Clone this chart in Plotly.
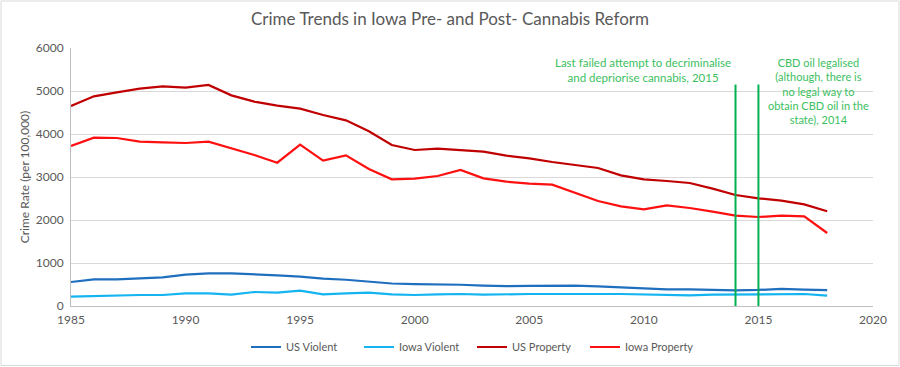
import plotly.graph_objects as go

years = list(range(1985, 2019))

us_violent = [558, 620, 620, 643, 667, 729, 758, 758, 744, 713, 684, 636, 611, 567,
              523, 507, 504, 494, 476, 463, 469, 474, 472, 458, 432, 405, 387, 387,
              369, 362, 373, 397, 383, 369]
iowa_violent = [217, 233, 233, 256, 256, 295, 295, 264, 326, 310, 357, 271, 295, 310,
                271, 256, 271, 279, 264, 279, 279, 279, 287, 279, 279, 264, 248, 248,
                264, 264, 264, 279, 279, 240]
us_property = [4651, 4876, 4969, 5054, 5109, 5078, 5140, 4899, 4752, 4659, 4589, 4442,
               4318, 4062, 3744, 3628, 3659, 3620, 3589, 3496, 3434, 3349, 3279, 3209,
               3039, 2946, 2907, 2860, 2729, 2581, 2504, 2450, 2364, 2202]
iowa_property = [3721, 3915, 3907, 3822, 3806, 3791, 3822, 3674, 3512, 3333, 3752, 3380,
                 3504, 3186, 2946, 2961, 3023, 3163, 2969, 2891, 2845, 2822, 2636, 2442,
                 2318, 2248, 2341, 2279, 2194, 2101, 2070, 2101, 2085, 1698]

series_names = ["US Violent", "Iowa Violent", "US Property", "Iowa Property"]
series_colors = ["#1F6FBF", "#14B4F0", "#C00000", "#FF1010"]

event_years = [2014, 2015]
event_top = 5150
note_left = "Last failed attempt to decriminalise<br>and depriorise cannabis, 2015"
note_right = "CBD oil legalised<br>(although, there is<br>no legal way to<br>obtain CBD oil in the<br>state), 2014"

FONT = "Lato, 'Open Sans', sans-serif"
GRAY = "#595959"
GREEN = "#00B050"

fig = go.Figure()
for name, vals, col in zip(series_names, [us_violent, iowa_violent, us_property, iowa_property], series_colors):
    fig.add_trace(go.Scatter(x=years, y=vals, name=name, mode="lines",
                             line=dict(color=col, width=2.2)))

for ey in event_years:
    fig.add_shape(type="line", xref="x", yref="y", x0=ey, x1=ey, y0=0, y1=event_top,
                  line=dict(color=GREEN, width=2))

fig.add_annotation(x=2009.95, y=5850, xref="x", yref="y", text=note_left, showarrow=False,
                   font=dict(family=FONT, size=11.5, color="#3CC060"), align="center",
                   yanchor="top")
fig.add_annotation(x=2017.6, y=5870, xref="x", yref="y", text=note_right, showarrow=False,
                   font=dict(family=FONT, size=11, color="#3CC060"), align="center",
                   yanchor="top")

# outer border
fig.add_shape(type="rect", xref="paper", yref="paper",
              x0=-70/802, x1=1 + 26/802, y0=-59.5/258, y1=1 + 47/258,
              line=dict(color="#D9D9D9", width=1))

fig.update_layout(
    width=900, height=367,
    margin=dict(l=71, r=27, t=48, b=61, autoexpand=False),
    paper_bgcolor="white", plot_bgcolor="white",
    title=dict(text="Crime Trends in Iowa Pre- and Post- Cannabis Reform", x=0.5, xanchor="center",
               y=1 - 19/367, yanchor="middle",
               font=dict(family=FONT, size=17, color=GRAY)),
    font=dict(family=FONT, size=11, color=GRAY),
    showlegend=True,
    legend=dict(orientation="h", x=0.5, xanchor="center", y=-41/258, yanchor="middle",
                font=dict(family=FONT, size=11, color=GRAY), entrywidth=68,
                entrywidthmode="pixels", tracegroupgap=0),
    xaxis=dict(range=[1985, 2020], tickmode="linear", tick0=1985, dtick=5, automargin=False,
               showgrid=False, showline=True, linecolor="#BFBFBF", linewidth=1,
               ticks="", zeroline=False, tickfont=dict(size=12, color=GRAY), ticklabelstandoff=3),
    yaxis=dict(range=[0, 6000], tickmode="linear", tick0=0, dtick=1000, automargin=False,
               showgrid=True, gridcolor="#D9D9D9", gridwidth=1,
               showline=True, linecolor="#BFBFBF", linewidth=1, zeroline=False,
               ticks="", tickfont=dict(size=12, color=GRAY), ticklabelstandoff=4,
               title=dict(text="Crime Rate (per 100,000)", font=dict(size=12, color=GRAY), standoff=3)),
)

fig.write_html("out.html", config={"displayModeBar": False},
               post_script="document.body.style.margin='0';document.body.style.padding='0';")
